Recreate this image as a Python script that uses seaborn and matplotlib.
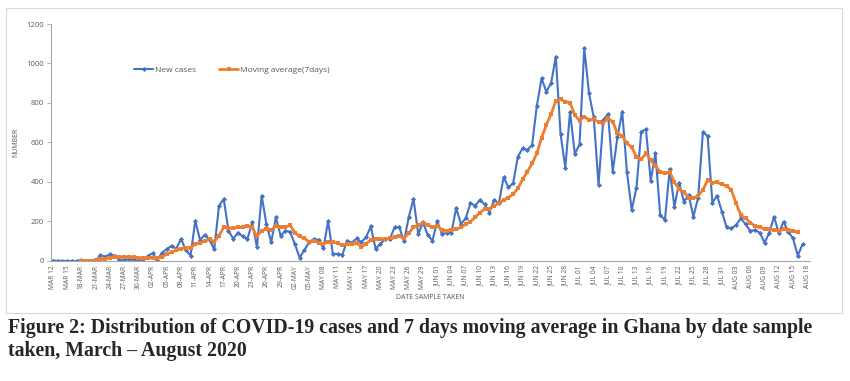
import numpy as np
import pandas as pd
import seaborn as sns
import matplotlib.pyplot as plt
from matplotlib.patches import Rectangle

# daily values, day 0 = 12 March 2020 ... day 159 = 18 August 2020
new_cases = [2, 0, 0, 0, 0, 0, 3, 1, 2, 1,
             30, 22, 34, 27, 5, 3, 10, 6, 4, 8,
             25, 39, 5, 42, 61, 76, 61, 112, 56, 27,
             203, 107, 132, 107, 59, 280, 314, 154, 112, 144,
             124, 112, 195, 70, 330, 186, 95, 222, 127, 154,
             147, 85, 17, 56, 95, 112, 107, 64, 202, 36,
             36, 31, 103, 93, 114, 95, 120, 175, 63, 86,
             110, 110, 170, 171, 100, 222, 314, 137, 195, 132,
             103, 202, 136, 144, 144, 268, 188, 216, 292, 280,
             309, 287, 245, 309, 292, 424, 373, 393, 528, 570,
             562, 587, 786, 925, 857, 900, 1034, 643, 473, 756,
             542, 591, 1077, 849, 727, 385, 714, 744, 452, 629,
             756, 449, 258, 371, 655, 667, 407, 545, 233, 208,
             466, 275, 397, 300, 334, 224, 321, 651, 633, 295,
             331, 250, 170, 165, 182, 216, 186, 152, 157, 143,
             93, 143, 224, 140, 199, 148, 115, 27, 85, np.nan]

moving_avg = [np.nan, np.nan, np.nan, np.nan, np.nan, np.nan, 2, 2, 2, 3,
              8, 12, 17, 20, 20, 20, 20, 18, 16, 14,
              15, 17, 16, 20, 35, 45, 55, 62, 68, 68,
              86, 93, 100, 110, 98, 129, 171, 166, 166, 170,
              170, 178, 171, 124, 154, 163, 158, 175, 171, 171,
              181, 144, 124, 115, 97, 102, 93, 86, 98, 95,
              90, 80, 85, 85, 90, 73, 86, 107, 110, 110,
              110, 114, 119, 124, 115, 141, 171, 180, 192, 183,
              171, 178, 158, 153, 155, 160, 170, 186, 199, 221,
              245, 263, 263, 280, 292, 309, 321, 338, 368, 413,
              452, 494, 545, 624, 689, 744, 810, 819, 807, 802,
              739, 711, 731, 714, 717, 705, 700, 722, 705, 647,
              633, 596, 576, 528, 515, 545, 511, 481, 452, 444,
              452, 398, 365, 348, 321, 317, 331, 359, 410, 397,
              398, 388, 381, 359, 292, 233, 216, 194, 177, 170,
              162, 160, 157, 152, 160, 157, 153, 145, np.nan, np.nan]

x_labels = ["MAR 12", "MAR 15", "18-MAR", "21-MAR", "24-MAR", "27-MAR", "30-MAR",
            "02-APR", "05-APR", "08-APR", "11-APR", "14-APR", "17-APR", "20-APR",
            "23-APR", "26-APR", "29-APR", "02-MAY", "05-MAY", "MAY 08", "MAY 11",
            "MAY 14", "MAY 17", "MAY 20", "MAY 23", "MAY 26", "MAY 29", "JUN 01",
            "JUN 04", "JUN 07", "JUN 10", "JUN 13", "JUN 16", "JUN 19", "JUN 22",
            "JUN 25", "JUN 28", "JUL 01", "JUL 04", "JUL 07", "JUL 10", "JUL 13",
            "JUL 16", "JUL 19", "JUL 22", "JUL 25", "JUL 28", "JUL 31", "AUG 03",
            "AUG 06", "AUG 09", "AUG 12", "AUG 15", "AUG 18"]

df = pd.DataFrame({"day": np.arange(len(new_cases)),
                   "new": new_cases,
                   "avg": moving_avg})

sns.set_style("white")
plt.rcParams['font.family'] = ['Open Sans', 'DejaVu Sans']

grey = "#595959"
fig = plt.figure(figsize=(8.5, 3.81), dpi=100)
ax = fig.add_axes([0.0595, 0.315, 0.893, 0.622])

sns.lineplot(data=df, x="day", y="new", ax=ax, color="#4472C4", linewidth=1.5,
             marker="D", markersize=2.6, markeredgewidth=0, label="New cases")
sns.lineplot(data=df.dropna(subset=["avg"]), x="day", y="avg", ax=ax, color="#ED7D31",
             linewidth=2, marker="s", markersize=3, markeredgewidth=0,
             label="Moving average(7days)")

ax.set_xlim(-0.5, 159.5)
ax.set_ylim(0, 1200)
ax.set_yticks(range(0, 1201, 200))
ax.set_xticks(range(0, 160, 3))
ax.set_xticklabels(x_labels, rotation=90)
ax.set_xticks(range(0, 160), minor=True)
ax.tick_params(axis="x", which="both", direction="inout", length=4, width=0.6,
               color="#a6a6a6", labelsize=4.8, labelcolor=grey, pad=1)
ax.tick_params(axis="y", direction="out", length=3, width=0.6, color="#a6a6a6",
               labelsize=5.5, labelcolor=grey, pad=2, left=True)
for s in ["top", "right"]:
    ax.spines[s].set_visible(False)
for s in ["left", "bottom"]:
    ax.spines[s].set_color("#a6a6a6")
    ax.spines[s].set_linewidth(0.8)

ax.set_xlabel("DATE SAMPLE TAKEN", fontsize=5, color=grey, labelpad=3)
ax.set_ylabel("NUMBER", fontsize=5, color=grey, labelpad=5)

ax.legend(loc="center left", bbox_to_anchor=(0.1, 0.806), ncol=2, frameon=False,
          fontsize=6, labelcolor=grey, handlelength=2.3, columnspacing=2.8,
          handletextpad=0.2)

fig.add_artist(Rectangle((0.007, 0.178), 0.983, 0.8, transform=fig.transFigure,
                         fill=False, edgecolor="#d9d9d9", linewidth=0.8))

fig.text(0.009, 0.139, "Figure 2: Distribution of COVID-19 cases and 7 days moving average in Ghana by date sample",
         fontsize=14.3, fontweight="bold", family="Liberation Serif", va="center")
fig.text(0.009, 0.078, "taken, March \u2013 August 2020",
         fontsize=14.3, fontweight="bold", family="Liberation Serif", va="center")

plt.savefig("out.png", dpi=100)
